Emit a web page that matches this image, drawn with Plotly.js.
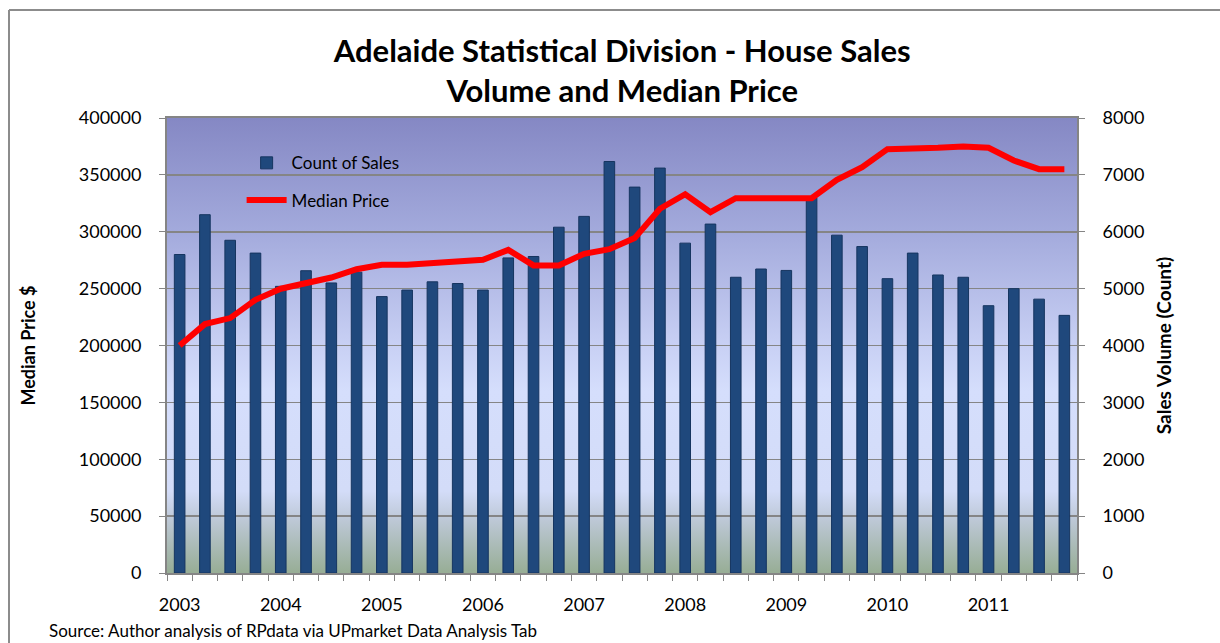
<!DOCTYPE html>
<html>
<head>
<meta charset="utf-8">
<script src="https://cdn.plot.ly/plotly-3.0.1.min.js"></script>
<style>html,body{margin:0;padding:0;background:#fff;}#chart{width:1220px;height:643px;}</style>
</head>
<body>
<div id="chart"></div>
<script>
// ---- data ----
var years = ["2003","2004","2005","2006","2007","2008","2009","2010","2011"];
var quarters = ["Q1","Q2","Q3","Q4"];
var salesCount = [5600, 6300, 5850, 5625, 5040, 5315, 5100, 5290,
                  4860, 4975, 5120, 5090, 4975, 5540, 5565, 6080,
                  6270, 7235, 6785, 7120, 5800, 6135, 5200, 5345,
                  5320, 6600, 5940, 5740, 5175, 5625, 5240, 5200,
                  4700, 5000, 4815, 4530];
var medianPrice = [200000, 218800, 224100, 240200, 249900, 255400, 259800, 267100,
                   270900, 271000, 272400, 274800, 275300, 284100, 270400, 270400,
                   280600, 284700, 294400, 320200, 333000, 317200, 329500, 329500,
                   329500, 329500, 345600, 356800, 372600, 372600, 373800, 374900,
                   373800, 362600, 355000, 355000];

// ---- build x positions (one per quarter) ----
var periodLabels = [];
years.forEach(function(y){ quarters.forEach(function(q){ periodLabels.push(y + " " + q); }); });
var xIdx = salesCount.map(function(_, i){ return i; });
var yearTickVals = years.map(function(_, i){ return i * 4; });

// background gradient image
var svg = '<svg xmlns="http://www.w3.org/2000/svg" width="100" height="100" preserveAspectRatio="none">' +
  '<defs><linearGradient id="g" x1="0" y1="0" x2="0" y2="1">' +
  '<stop offset="0" stop-color="#8588c4"/>' +
  '<stop offset="0.25" stop-color="#a3aadc"/>' +
  '<stop offset="0.5" stop-color="#c8d0f4"/>' +
  '<stop offset="0.6" stop-color="#d5defc"/>' +
  '<stop offset="0.82" stop-color="#d3dcf8"/>' +
  '<stop offset="0.88" stop-color="#bec9d8"/>' +
  '<stop offset="1" stop-color="#97ad95"/>' +
  '</linearGradient></defs><rect x="0" y="0" width="100" height="100" fill="url(#g)"/></svg>';
var bgURI = 'data:image/svg+xml;base64,' + btoa(svg);

var FONT = "Lato, 'Open Sans', sans-serif";
var GRID = '#858585';

var traces = [
  {
    type: 'bar',
    name: 'Count of Sales',
    legendgroup: 'a',
    x: xIdx,
    y: salesCount,
    hovertext: periodLabels,
    textposition: 'none',
    width: 0.42,
    marker: {color: '#1f487c', line: {color: '#163560', width: 1}},
    yaxis: 'y'
  },
  {
    type: 'scatter',
    mode: 'lines',
    name: 'Median Price',
    legendgroup: 'b',
    x: xIdx,
    y: medianPrice,
    hovertext: periodLabels,
    line: {color: '#ff0000', width: 6},
    yaxis: 'y2'
  }
];

var layout = {
  width: 1220,
  height: 643,
  margin: {l: 167, r: 143, t: 118, b: 70},
  paper_bgcolor: '#ffffff',
  plot_bgcolor: 'rgba(0,0,0,0)',
  font: {family: FONT, size: 18, color: '#000'},
  title: {
    text: '<b>Adelaide Statistical Division - House Sales<br>Volume and Median Price</b>',
    font: {family: FONT, size: 31, color: '#000'},
    x: 0.51, xanchor: 'center',
    y: 1 - 62/643, yanchor: 'middle', yref: 'container'
  },
  showlegend: true,
  legend: {
    x: 0.082, y: 0.94, xanchor: 'left', yanchor: 'top',
    bgcolor: 'rgba(0,0,0,0)',
    font: {family: FONT, size: 17, color: '#000'},
    traceorder: 'grouped',
    itemwidth: 40,
    tracegroupgap: 12
  },
  xaxis: {
    range: [-0.5, 35.5],
    tickmode: 'array',
    tickvals: yearTickVals,
    ticktext: years,
    ticks: '',
    ticklabelstandoff: 14,
    showgrid: false,
    zeroline: false,
    showline: true,
    linecolor: GRID,
    linewidth: 2,
    mirror: true,
    minor: {tick0: -0.5, dtick: 1, ticks: 'outside', ticklen: 6, tickcolor: GRID, tickwidth: 1, showgrid: false},
    tickfont: {family: FONT, size: 18, color: '#000'}
  },
  yaxis: {
    side: 'right',
    range: [0, 8000],
    dtick: 1000,
    tickformat: 'd',
    showgrid: true,
    gridcolor: GRID,
    gridwidth: 1.5,
    zeroline: false,
    showline: true,
    linecolor: GRID,
    linewidth: 2,
    ticks: 'outside',
    ticklen: 6,
    tickcolor: GRID,
    ticklabelstandoff: 14,
    tickfont: {family: FONT, size: 18, color: '#000'},
    title: {text: '<b>Sales Volume (Count)</b>', font: {family: FONT, size: 19, color: '#000'}, standoff: 14}
  },
  yaxis2: {
    side: 'left',
    overlaying: 'y',
    range: [0, 400000],
    dtick: 50000,
    tickformat: 'd',
    showgrid: false,
    zeroline: false,
    showline: true,
    linecolor: GRID,
    linewidth: 2,
    ticks: 'outside',
    ticklen: 6,
    tickcolor: GRID,
    ticklabelstandoff: 14,
    tickfont: {family: FONT, size: 18, color: '#000'},
    title: {text: '<b>Median Price $</b>', font: {family: FONT, size: 18, color: '#000'}, standoff: 38}
  },
  images: [{
    source: bgURI, xref: 'paper', yref: 'paper', x: 0, y: 1, sizex: 1, sizey: 1,
    xanchor: 'left', yanchor: 'top', sizing: 'stretch', layer: 'below'
  }],
  shapes: [
    {type: 'line', xref: 'paper', yref: 'paper', x0: (9-167)/910, x1: (9-167)/910, y0: -0.2, y1: (573-10)/455,
     line: {color: '#8c8c8c', width: 2}},
    {type: 'line', xref: 'paper', yref: 'paper', x0: (9-167)/910, x1: 1.2, y0: (573-10)/455, y1: (573-10)/455,
     line: {color: '#8c8c8c', width: 2}}
  ],
  annotations: [{
    text: 'Source: Author analysis of RPdata via UPmarket Data Analysis Tab',
    xref: 'paper', yref: 'paper', x: (47-167)/910, y: (573-630)/455,
    xanchor: 'left', yanchor: 'middle', showarrow: false,
    font: {family: FONT, size: 17, color: '#000'}
  }]
};

Plotly.newPlot('chart', traces, layout, {displayModeBar: false, staticPlot: true});
</script>
</body>
</html>
